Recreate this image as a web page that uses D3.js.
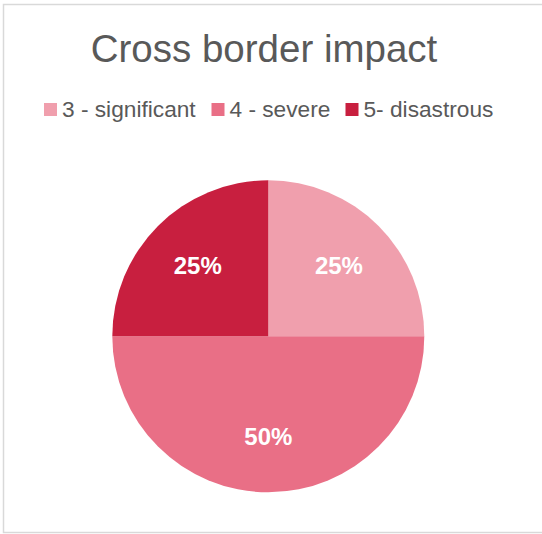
<!DOCTYPE html>
<html>
<head>
<meta charset="utf-8">
<script src="https://cdn.jsdelivr.net/npm/d3@7/dist/d3.min.js"></script>
<style>
  html, body { margin: 0; padding: 0; background: #fff; }
  svg { display: block; }
</style>
</head>
<body>
<svg id="chart" width="542" height="534"></svg>
<script>
// Cross border impact: share of responses per severity level
const categories = ["3 - significant", "4 - severe", "5- disastrous"];
const values = [25, 50, 25];
const colors = ["#F09FAD", "#E96F86", "#C81F3F"];
const title = "Cross border impact";

const svg = d3.select("#chart");
const W = 542, H = 534;
const font = "'Liberation Sans', Arial, sans-serif";

// chart frame
svg.append("rect")
  .attr("x", 3.5).attr("y", 4.5)
  .attr("width", W + 2).attr("height", 528)
  .attr("fill", "#fff")
  .attr("stroke", "#D9D9D9")
  .attr("stroke-width", 1.5);

// title
svg.append("text")
  .attr("x", 264).attr("y", 61.5)
  .attr("text-anchor", "middle")
  .attr("font-family", font)
  .attr("font-size", 38.5)
  .attr("fill", "#595959")
  .text(title);

// legend
const legendX = [44, 211.5, 345.5];
const legend = svg.append("g");
categories.forEach((c, i) => {
  const g = legend.append("g").attr("transform", `translate(${legendX[i]},0)`);
  g.append("rect")
    .attr("x", 0).attr("y", 103)
    .attr("width", 13).attr("height", 13)
    .attr("fill", colors[i]);
  g.append("text")
    .attr("x", 18).attr("y", 117.3)
    .attr("font-family", font)
    .attr("font-size", 22.7)
    .attr("fill", "#595959")
    .text(c);
});

// pie
const cx = 268.3, cy = 336.3, R = 156;
const color = d3.scaleOrdinal().domain(categories).range(colors);
const pie = d3.pie().sort(null).value(d => d.value);
const data = pie(categories.map((c, i) => ({ name: c, value: values[i] })));
const total = d3.sum(values);

const arc = d3.arc().innerRadius(0).outerRadius(R);
const labelArc = d3.arc().innerRadius(R * 0.64).outerRadius(R * 0.64);

const g = svg.append("g").attr("transform", `translate(${cx},${cy})`);
g.selectAll("path.slice")
  .data(data)
  .join("path")
  .attr("class", "slice")
  .attr("d", arc)
  .attr("fill", d => color(d.data.name));

const pct = d3.format(".0%");
g.selectAll("text.lbl")
  .data(data)
  .join("text")
  .attr("class", "lbl")
  .attr("transform", d => {
    const [x, y] = labelArc.centroid(d);
    return `translate(${x},${y})`;
  })
  .attr("text-anchor", "middle")
  .attr("dy", "0.36em")
  .attr("font-family", font)
  .attr("font-weight", "bold")
  .attr("font-size", 24)
  .attr("fill", "#fff")
  .text(d => pct(d.data.value / total));
</script>
</body>
</html>
